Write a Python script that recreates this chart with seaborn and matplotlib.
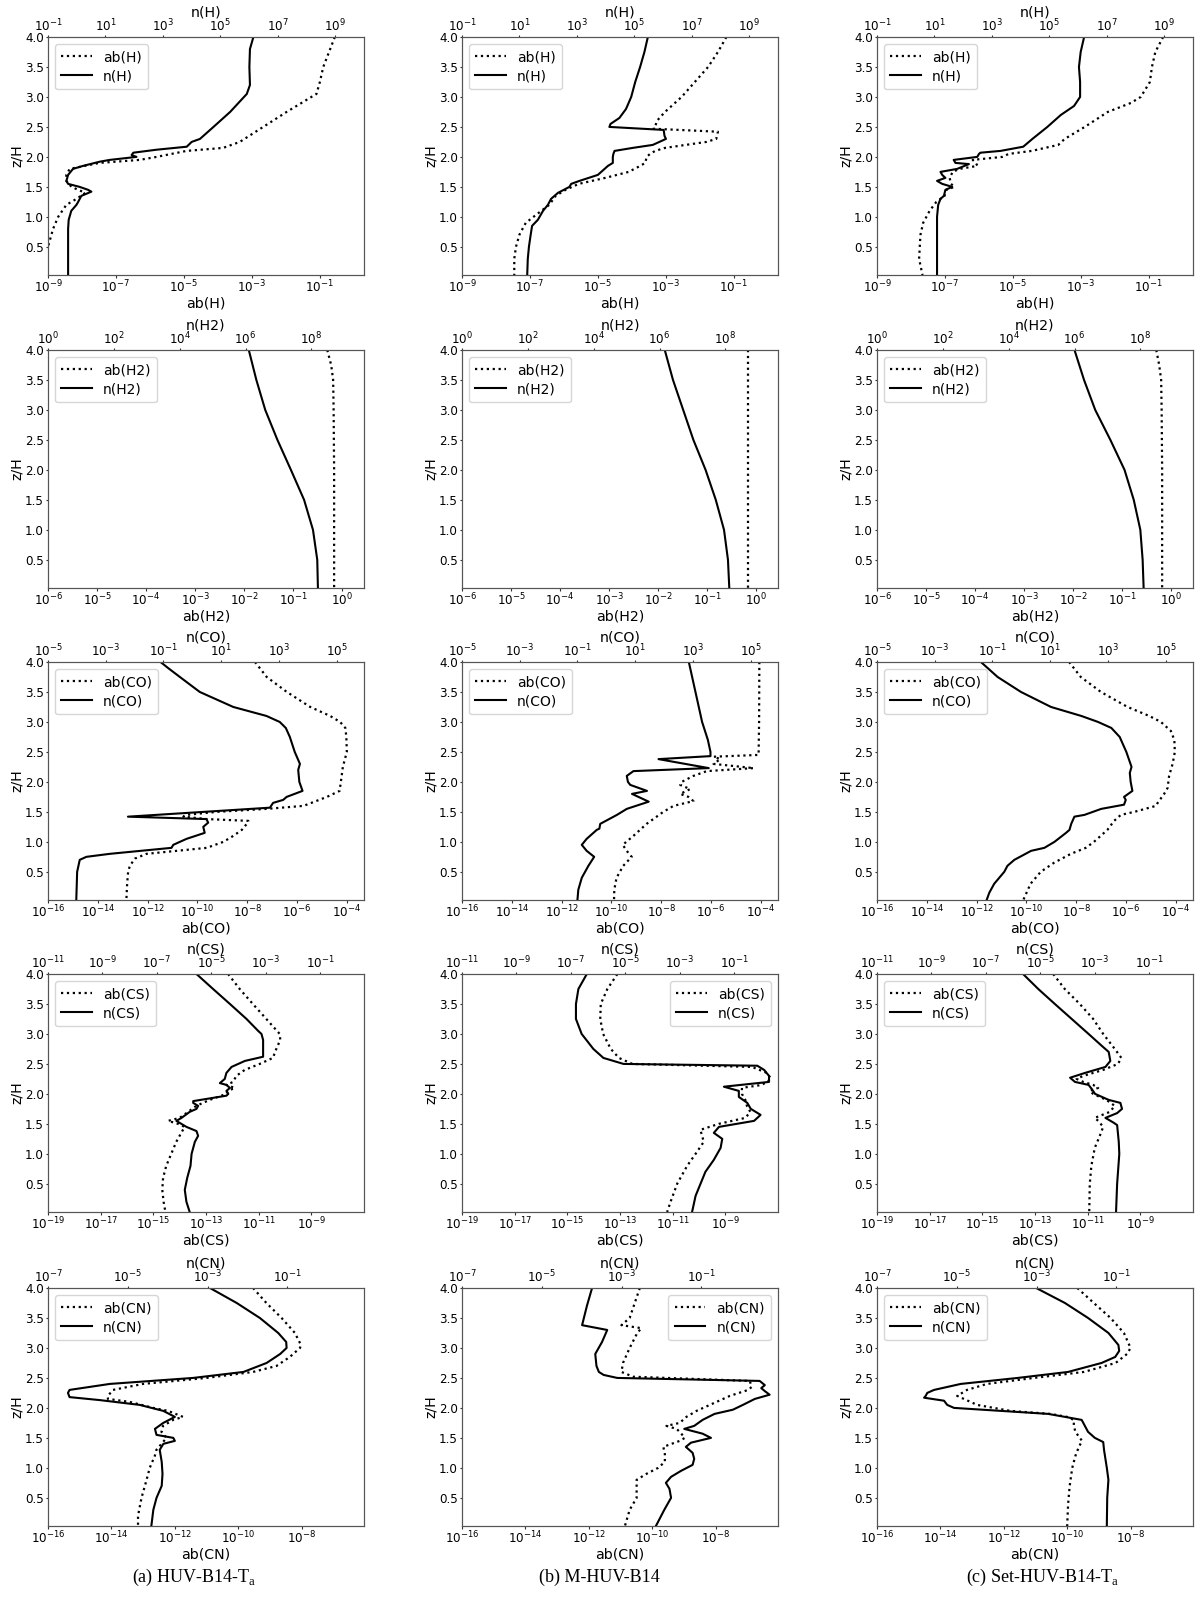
import numpy as np
import matplotlib
matplotlib.use("Agg")
import matplotlib.pyplot as plt
import seaborn as sns
from matplotlib.ticker import NullLocator

# values are log10 of the quantity, z is z/H

# ---------------- H ----------------
h_a_ab_z = [4.0, 3.5, 3.25, 3.05, 3.0, 2.75, 2.5, 2.25, 2.15, 2.1, 2.0, 1.95, 1.9, 1.8, 1.7, 1.6, 1.5, 1.4, 1.3, 1.2, 1.0, 0.8, 0.6, 0.5, 0.4, 0.2, 0.03]
h_a_ab = [-0.55, -0.89, -0.99, -1.09, -1.24, -1.97, -2.66, -3.35, -3.84, -4.92, -5.8, -6.3, -7.48, -8.36, -8.46, -8.46, -8.31, -7.9, -8.16, -8.46, -8.7, -8.85, -8.95, -9.0, -9.05, -9.2, -9.3]
h_a_n_z = [4.0, 3.8, 3.5, 3.2, 3.05, 2.9, 2.75, 2.5, 2.3, 2.25, 2.17, 2.12, 2.07, 2.03, 2.0, 1.95, 1.92, 1.85, 1.8, 1.7, 1.6, 1.55, 1.5, 1.45, 1.42, 1.35, 1.25, 1.2, 1.1, 0.95, 0.8, 0.5, 0.03]
h_a_n = [6.15, 6.03, 6.01, 6.03, 5.92, 5.63, 5.34, 4.76, 4.29, 4.0, 3.83, 2.78, 1.97, 1.91, 2.08, 1.15, 0.8, 0.22, -0.13, -0.3, -0.36, -0.3, 0.1, 0.4, 0.51, 0.16, 0.05, -0.01, -0.19, -0.28, -0.3, -0.3, -0.3]

h_b_ab_z = [4.0, 3.75, 3.5, 3.25, 3.0, 2.75, 2.6, 2.5, 2.47, 2.42, 2.3, 2.25, 2.15, 2.1, 2.05, 2.0, 1.9, 1.85, 1.75, 1.65, 1.55, 1.45, 1.35, 1.2, 1.05, 0.9, 0.85, 0.7, 0.5, 0.3, 0.03]
h_b_ab = [-1.21, -1.46, -1.75, -2.14, -2.53, -3.02, -3.26, -3.31, -3.36, -1.46, -1.51, -1.8, -3.02, -3.31, -3.46, -3.56, -3.6, -3.75, -4.09, -4.78, -5.56, -5.95, -6.24, -6.43, -6.78, -7.12, -7.17, -7.31, -7.41, -7.46, -7.46]
h_b_n_z = [4.0, 3.75, 3.5, 3.25, 3.0, 2.8, 2.65, 2.55, 2.5, 2.45, 2.35, 2.3, 2.2, 2.15, 2.1, 2.05, 2.0, 1.9, 1.85, 1.7, 1.6, 1.55, 1.5, 1.4, 1.3, 1.2, 1.1, 0.95, 0.85, 0.7, 0.5, 0.3, 0.03]
h_b_n = [5.47, 5.35, 5.2, 5.03, 4.89, 4.71, 4.48, 4.17, 4.13, 6.02, 6.05, 6.1, 5.64, 4.94, 4.31, 4.27, 4.25, 4.25, 4.08, 3.73, 3.09, 2.8, 2.74, 2.34, 2.1, 1.99, 1.82, 1.64, 1.44, 1.39, 1.33, 1.29, 1.27]

h_c_ab_z = [4.0, 3.75, 3.5, 3.25, 3.0, 2.9, 2.75, 2.5, 2.3, 2.2, 2.1, 2.05, 2.0, 1.95, 1.9, 1.85, 1.8, 1.75, 1.65, 1.55, 1.5, 1.45, 1.35, 1.25, 1.1, 0.9, 0.7, 0.5, 0.3, 0.03]
h_c_ab = [-0.57, -0.8, -0.9, -0.96, -1.23, -1.52, -2.2, -2.88, -3.47, -3.66, -4.44, -5.12, -5.31, -6.18, -6.09, -6.04, -6.57, -6.77, -6.86, -6.82, -6.72, -6.96, -7.01, -7.25, -7.45, -7.64, -7.72, -7.74, -7.76, -7.66]
h_c_n_z = [4.0, 3.75, 3.5, 3.25, 3.0, 2.85, 2.7, 2.5, 2.3, 2.17, 2.1, 2.07, 2.05, 2.0, 1.95, 1.9, 1.88, 1.8, 1.75, 1.7, 1.65, 1.6, 1.55, 1.5, 1.45, 1.35, 1.3, 1.2, 1.0, 0.5, 0.03]
h_c_n = [6.21, 6.09, 6.03, 6.07, 6.07, 5.86, 5.4, 4.93, 4.41, 4.09, 3.3, 2.6, 2.55, 2.49, 1.67, 1.73, 2.2, 1.79, 1.21, 1.27, 1.38, 1.09, 1.27, 1.62, 1.38, 1.33, 1.21, 1.13, 1.09, 1.09, 1.09]

# ---------------- H2 ----------------
h2_a_ab_z = [4.0, 3.75, 3.5, 3.0, 2.0, 1.0, 0.03]
h2_a_ab = [-0.3, -0.22, -0.18, -0.17, -0.16, -0.16, -0.16]
h2_a_n_z = [4.0, 3.5, 3.0, 2.5, 2.0, 1.5, 1.0, 0.5, 0.03]
h2_a_n = [6.1, 6.33, 6.6, 6.97, 7.38, 7.78, 8.05, 8.18, 8.2]

h2_b_ab_z = [4.0, 3.0, 2.0, 1.0, 0.03]
h2_b_ab = [-0.17, -0.17, -0.17, -0.17, -0.17]
h2_b_n_z = [4.0, 3.5, 3.0, 2.5, 2.0, 1.5, 1.0, 0.5, 0.03]
h2_b_n = [6.16, 6.41, 6.72, 7.03, 7.4, 7.71, 7.96, 8.08, 8.12]

h2_c_ab_z = [4.0, 3.75, 3.5, 3.0, 2.0, 1.0, 0.03]
h2_c_ab = [-0.3, -0.24, -0.2, -0.19, -0.18, -0.18, -0.18]
h2_c_n_z = [4.0, 3.5, 3.0, 2.5, 2.0, 1.5, 1.0, 0.5, 0.03]
h2_c_n = [6.0, 6.29, 6.63, 7.09, 7.52, 7.8, 8.0, 8.07, 8.1]

# ---------------- CO ----------------
co_a_ab_z = [4.0, 3.75, 3.5, 3.25, 3.1, 3.0, 2.9, 2.75, 2.5, 2.25, 2.0, 1.85, 1.75, 1.6, 1.55, 1.5, 1.45, 1.42, 1.38, 1.35, 1.3, 1.2, 1.1, 1.0, 0.9, 0.85, 0.8, 0.72, 0.6, 0.5, 0.3, 0.03]
co_a_ab = [-7.68, -7.21, -6.4, -5.46, -4.66, -4.26, -4.05, -4.01, -3.99, -4.15, -4.23, -4.28, -4.79, -5.73, -7.21, -9.22, -10.43, -10.56, -9.62, -7.95, -8.01, -8.21, -8.55, -8.95, -9.62, -10.83, -12.04, -12.51, -12.71, -12.78, -12.82, -12.85]
co_a_n_z = [4.0, 3.9, 3.75, 3.5, 3.25, 3.1, 3.0, 2.9, 2.75, 2.5, 2.3, 2.2, 2.0, 1.85, 1.75, 1.7, 1.65, 1.57, 1.42, 1.38, 1.32, 1.25, 1.15, 1.05, 0.95, 0.9, 0.8, 0.75, 0.7, 0.5, 0.03]
co_a_n = [-1.1, -0.84, -0.43, 0.26, 1.42, 2.57, 3.03, 3.24, 3.38, 3.55, 3.73, 3.67, 3.71, 3.82, 3.27, 3.15, 2.8, 2.69, -2.23, 0.49, 0.55, 0.38, 0.43, -0.2, -0.66, -0.72, -2.86, -3.67, -3.9, -3.99, -4.02]

co_b_ab_z = [4.0, 3.0, 2.45, 2.42, 2.38, 2.3, 2.23, 2.18, 2.1, 2.0, 1.95, 1.88, 1.8, 1.75, 1.68, 1.6, 1.5, 1.3, 1.1, 0.95, 0.85, 0.75, 0.6, 0.4, 0.2, 0.03]
co_b_ab = [-4.05, -4.06, -4.08, -5.89, -5.62, -5.89, -4.28, -6.16, -6.7, -7.17, -7.23, -6.83, -7.23, -6.9, -6.7, -7.5, -7.91, -8.58, -9.11, -9.54, -9.38, -9.18, -9.52, -9.79, -9.88, -9.89]
co_b_n_z = [4.0, 3.5, 3.0, 2.7, 2.5, 2.43, 2.38, 2.23, 2.18, 2.1, 2.0, 1.95, 1.85, 1.8, 1.67, 1.55, 1.45, 1.3, 1.22, 1.2, 1.05, 0.95, 0.85, 0.75, 0.6, 0.4, 0.2, 0.03]
co_b_n = [2.86, 3.09, 3.32, 3.52, 3.61, 3.61, 1.81, 3.55, 0.94, 0.71, 0.75, 0.83, 1.41, 0.89, 1.47, 0.71, 0.37, -0.21, -0.24, -0.33, -0.68, -0.85, -0.68, -0.42, -0.62, -0.85, -0.97, -1.0]

co_c_ab_z = [4.0, 3.75, 3.5, 3.25, 3.1, 3.0, 2.85, 2.7, 2.5, 2.3, 2.1, 1.9, 1.8, 1.65, 1.6, 1.5, 1.45, 1.35, 1.2, 1.0, 0.9, 0.8, 0.65, 0.5, 0.3, 0.03]
co_c_ab = [-8.28, -7.81, -7.0, -5.93, -5.06, -4.59, -4.19, -4.05, -4.03, -4.12, -4.26, -4.32, -4.46, -4.72, -4.79, -5.66, -6.2, -6.47, -6.74, -7.28, -7.61, -8.21, -8.89, -9.42, -9.83, -10.12]
co_c_n_z = [4.0, 3.75, 3.5, 3.25, 3.1, 3.0, 2.9, 2.75, 2.5, 2.25, 2.15, 2.0, 1.85, 1.75, 1.7, 1.62, 1.55, 1.45, 1.42, 1.3, 1.2, 1.15, 1.0, 0.9, 0.85, 0.7, 0.6, 0.5, 0.3, 0.15, 0.03]
co_c_n = [-1.4, -0.82, -0.01, 1.03, 2.08, 2.66, 3.12, 3.41, 3.64, 3.82, 3.76, 3.79, 3.85, 3.56, 3.62, 3.56, 2.77, 2.19, 1.84, 1.73, 1.67, 1.55, 1.15, 0.8, 0.34, -0.24, -0.48, -0.59, -0.94, -1.11, -1.2]

# ---------------- CS ----------------
cs_a_ab_z = [4.0, 3.75, 3.5, 3.25, 3.0, 2.9, 2.75, 2.6, 2.5, 2.4, 2.3, 2.2, 2.15, 2.1, 2.05, 2.0, 1.9, 1.8, 1.7, 1.6, 1.55, 1.5, 1.45, 1.35, 1.2, 1.0, 0.8, 0.6, 0.4, 0.2, 0.03]
cs_a_ab = [-12.16, -11.72, -11.22, -10.71, -10.2, -10.18, -10.33, -10.46, -10.96, -11.53, -11.85, -11.97, -12.23, -11.91, -12.16, -12.23, -12.86, -13.37, -13.68, -14.0, -14.44, -14.06, -13.81, -13.94, -14.13, -14.32, -14.51, -14.63, -14.66, -14.61, -14.54]
cs_a_n_z = [4.0, 3.75, 3.5, 3.25, 3.05, 3.0, 2.9, 2.75, 2.62, 2.55, 2.45, 2.35, 2.25, 2.18, 2.15, 2.1, 2.05, 2.0, 1.97, 1.88, 1.85, 1.8, 1.75, 1.7, 1.6, 1.55, 1.45, 1.38, 1.3, 1.2, 1.0, 0.8, 0.6, 0.4, 0.2, 0.03]
cs_a_n = [-5.54, -4.93, -4.31, -3.7, -3.27, -3.15, -3.09, -3.09, -3.09, -3.76, -4.25, -4.44, -4.5, -4.68, -4.44, -4.31, -4.44, -4.37, -4.44, -5.66, -5.66, -5.48, -5.54, -5.79, -6.09, -6.28, -5.91, -5.54, -5.48, -5.6, -5.72, -5.76, -5.88, -5.97, -5.91, -5.79]

cs_b_ab_z = [4.0, 3.75, 3.5, 3.25, 3.0, 2.75, 2.6, 2.5, 2.45, 2.35, 2.25, 2.15, 2.1, 2.0, 1.9, 1.8, 1.7, 1.6, 1.5, 1.4, 1.3, 1.2, 1.0, 0.8, 0.5, 0.2, 0.03]
cs_b_ab = [-13.1, -13.48, -13.73, -13.75, -13.64, -13.35, -13.04, -12.53, -7.99, -7.42, -7.26, -7.61, -8.37, -8.37, -8.24, -8.18, -8.05, -8.24, -9.25, -9.95, -9.88, -9.82, -10.13, -10.45, -10.83, -11.08, -11.21]
cs_b_n_z = [4.0, 3.75, 3.5, 3.25, 3.0, 2.75, 2.6, 2.5, 2.47, 2.4, 2.3, 2.2, 2.12, 2.05, 1.95, 1.85, 1.75, 1.65, 1.55, 1.45, 1.35, 1.25, 1.1, 0.9, 0.7, 0.5, 0.3, 0.03]
cs_b_n = [-6.41, -6.72, -6.81, -6.81, -6.6, -6.17, -5.8, -5.06, -0.14, 0.11, 0.29, 0.29, -1.37, -0.82, -0.82, -0.51, -0.38, -0.02, -0.26, -1.55, -1.74, -1.43, -1.49, -1.74, -2.05, -2.23, -2.41, -2.54]

cs_c_ab_z = [4.0, 3.75, 3.5, 3.25, 3.0, 2.75, 2.6, 2.5, 2.4, 2.3, 2.25, 2.2, 2.15, 2.1, 2.05, 2.0, 1.9, 1.8, 1.7, 1.6, 1.55, 1.45, 1.3, 1.1, 0.8, 0.5, 0.03]
cs_c_ab = [-12.31, -11.87, -11.3, -10.79, -10.41, -9.97, -9.72, -9.85, -10.41, -11.17, -11.42, -11.17, -10.79, -10.6, -10.92, -10.79, -10.29, -9.97, -10.16, -10.73, -10.6, -10.41, -10.54, -10.73, -10.86, -10.92, -10.94]
cs_c_n_z = [4.0, 3.75, 3.5, 3.25, 3.0, 2.8, 2.7, 2.55, 2.45, 2.35, 2.27, 2.2, 2.15, 2.08, 2.04, 2.0, 1.9, 1.85, 1.75, 1.68, 1.6, 1.52, 1.48, 1.2, 1.0, 0.5, 0.03]
cs_c_n = [-5.63, -5.07, -4.46, -3.84, -3.22, -2.73, -2.48, -2.42, -2.6, -3.35, -3.9, -3.72, -3.22, -3.1, -3.04, -2.98, -2.48, -2.05, -1.99, -2.17, -2.6, -2.3, -2.17, -2.11, -2.09, -2.17, -2.21]

# ---------------- CN ----------------
cn_a_ab_z = [4.0, 3.75, 3.5, 3.25, 3.05, 3.0, 2.85, 2.7, 2.6, 2.5, 2.4, 2.3, 2.2, 2.15, 2.1, 2.0, 1.95, 1.85, 1.8, 1.7, 1.6, 1.5, 1.4, 1.3, 1.2, 1.0, 0.8, 0.5, 0.2, 0.03]
cn_a_ab = [-9.53, -9.11, -8.63, -8.21, -8.02, -8.05, -8.37, -8.79, -9.53, -11.0, -13.0, -13.95, -14.11, -14.11, -13.42, -12.68, -12.21, -11.74, -12.05, -12.37, -12.42, -12.26, -12.42, -12.58, -12.63, -12.79, -12.89, -13.05, -13.16, -13.16]
cn_a_n_z = [4.0, 3.75, 3.5, 3.25, 3.1, 3.0, 2.9, 2.75, 2.6, 2.5, 2.4, 2.3, 2.25, 2.18, 2.13, 2.05, 1.95, 1.85, 1.75, 1.65, 1.55, 1.5, 1.45, 1.4, 1.3, 1.1, 0.9, 0.7, 0.5, 0.3, 0.03]
cn_a_n = [-2.94, -2.27, -1.69, -1.23, -1.03, -1.02, -1.18, -1.52, -2.1, -3.36, -5.45, -6.46, -6.5, -6.46, -5.7, -4.7, -4.11, -3.82, -4.11, -4.32, -4.28, -3.86, -3.82, -4.11, -4.2, -4.15, -4.13, -4.15, -4.28, -4.36, -4.41]

cn_b_ab_z = [4.0, 3.75, 3.5, 3.38, 3.33, 3.25, 3.0, 2.75, 2.6, 2.52, 2.48, 2.45, 2.35, 2.3, 2.2, 2.05, 1.95, 1.85, 1.75, 1.7, 1.65, 1.6, 1.5, 1.45, 1.35, 1.25, 1.1, 1.0, 0.9, 0.8, 0.5, 0.3, 0.03]
cn_b_ab = [-10.39, -10.55, -10.71, -10.97, -10.34, -10.47, -10.71, -10.92, -10.97, -10.6, -8.49, -6.92, -6.86, -6.97, -7.55, -8.18, -8.6, -8.92, -9.13, -9.55, -9.23, -9.13, -8.97, -9.13, -9.65, -9.6, -9.6, -9.81, -10.18, -10.49, -10.49, -10.71, -10.86]
cn_b_n_z = [4.0, 3.7, 3.38, 3.3, 3.1, 2.9, 2.7, 2.6, 2.55, 2.5, 2.45, 2.38, 2.33, 2.28, 2.22, 2.15, 2.05, 1.97, 1.9, 1.8, 1.7, 1.65, 1.57, 1.5, 1.42, 1.35, 1.25, 1.15, 1.05, 0.95, 0.85, 0.75, 0.65, 0.5, 0.3, 0.03]
cn_b_n = [-3.74, -3.87, -3.99, -3.36, -3.49, -3.66, -3.63, -3.57, -3.45, -3.11, 0.46, 0.59, 0.5, 0.59, 0.71, 0.34, 0.04, -0.21, -0.67, -0.97, -1.18, -1.43, -0.97, -0.76, -1.26, -1.39, -1.22, -1.18, -1.22, -1.51, -1.76, -1.89, -1.8, -1.76, -1.93, -2.14]

cn_c_ab_z = [4.0, 3.75, 3.5, 3.25, 3.0, 2.9, 2.75, 2.6, 2.5, 2.4, 2.3, 2.2, 2.15, 2.05, 1.95, 1.9, 1.85, 1.8, 1.7, 1.6, 1.45, 1.35, 1.2, 1.0, 0.7, 0.4, 0.03]
cn_c_ab = [-9.68, -9.16, -8.63, -8.21, -8.0, -8.11, -8.47, -9.47, -11.05, -12.53, -13.16, -13.47, -13.26, -12.84, -11.79, -10.53, -10.0, -9.79, -9.79, -9.74, -9.53, -9.63, -9.74, -9.84, -9.92, -9.97, -10.0]
cn_c_n_z = [4.0, 3.75, 3.5, 3.25, 3.05, 2.95, 2.85, 2.75, 2.6, 2.5, 2.4, 2.3, 2.25, 2.2, 2.17, 2.12, 2.05, 2.0, 1.95, 1.9, 1.85, 1.8, 1.7, 1.6, 1.5, 1.43, 1.3, 1.0, 0.8, 0.5, 0.03]
cn_c_n = [-3.01, -2.29, -1.71, -1.2, -0.95, -0.93, -1.03, -1.37, -2.21, -3.47, -4.9, -5.57, -5.74, -5.78, -5.82, -5.32, -5.24, -5.07, -3.89, -2.71, -2.29, -1.87, -1.79, -1.71, -1.54, -1.33, -1.31, -1.24, -1.2, -1.23, -1.24]

species = ["H", "H2", "CO", "CS", "CN"]
captions = ["(a) HUV-B14-T$_\\mathregular{a}$", "(b) M-HUV-B14", "(c) Set-HUV-B14-T$_\\mathregular{a}$"]

# axis ranges (log10) and tick exponents: bottom = ab, top = n
ab_lims = [(-9, 0.31), (-6, 0.45), (-16, -3.3), (-19, -7.0), (-16, -6.03)]
n_lims = [(-1, 10.0), (0, 9.6), (-5, 5.95), (-11, 0.62), (-7, 0.92)]
ab_ticks = [range(-9, 0, 2), range(-6, 1, 1), range(-16, -3, 2), range(-19, -8, 2), range(-16, -7, 2)]
n_ticks = [range(-1, 10, 2), range(0, 9, 2), range(-5, 6, 2), range(-11, 0, 2), range(-7, 0, 2)]

profiles = [
    [(h_a_ab_z, h_a_ab, h_a_n_z, h_a_n), (h_b_ab_z, h_b_ab, h_b_n_z, h_b_n), (h_c_ab_z, h_c_ab, h_c_n_z, h_c_n)],
    [(h2_a_ab_z, h2_a_ab, h2_a_n_z, h2_a_n), (h2_b_ab_z, h2_b_ab, h2_b_n_z, h2_b_n), (h2_c_ab_z, h2_c_ab, h2_c_n_z, h2_c_n)],
    [(co_a_ab_z, co_a_ab, co_a_n_z, co_a_n), (co_b_ab_z, co_b_ab, co_b_n_z, co_b_n), (co_c_ab_z, co_c_ab, co_c_n_z, co_c_n)],
    [(cs_a_ab_z, cs_a_ab, cs_a_n_z, cs_a_n), (cs_b_ab_z, cs_b_ab, cs_b_n_z, cs_b_n), (cs_c_ab_z, cs_c_ab, cs_c_n_z, cs_c_n)],
    [(cn_a_ab_z, cn_a_ab, cn_a_n_z, cn_a_n), (cn_b_ab_z, cn_b_ab, cn_b_n_z, cn_b_n), (cn_c_ab_z, cn_c_ab, cn_c_n_z, cn_c_n)],
]
legend_right = {(3, 1), (4, 1)}

W, H = 1200, 1600
col_left = [48, 462, 877]
row_top = [37, 350, 662, 974, 1288]
ax_w, ax_h = 316, 238

plt.rcParams["axes.edgecolor"] = "#555555"
plt.rcParams["xtick.color"] = "#333333"
plt.rcParams["ytick.color"] = "#333333"
plt.rcParams["xtick.labelcolor"] = "black"
plt.rcParams["ytick.labelcolor"] = "black"

fig = plt.figure(figsize=(12, 16), dpi=100)

for r, sp in enumerate(species):
    for c in range(3):
        ab_z, ab, n_z, n = profiles[r][c]
        rect = [col_left[c] / W, 1 - (row_top[r] + ax_h) / H, ax_w / W, ax_h / H]
        ax = fig.add_axes(rect)
        ax.set_xscale("log")
        ax2 = ax.twiny()
        ax2.set_xscale("log")

        sns.lineplot(x=10.0 ** np.array(ab), y=ab_z, ax=ax, estimator=None, sort=False,
                     color="black", linestyle=":", linewidth=1.6, legend=False)
        sns.lineplot(x=10.0 ** np.array(n), y=n_z, ax=ax2, estimator=None, sort=False,
                     color="black", linestyle="-", linewidth=1.5, legend=False)

        ax.set_xlim(10.0 ** ab_lims[r][0], 10.0 ** ab_lims[r][1])
        ax2.set_xlim(10.0 ** n_lims[r][0], 10.0 ** n_lims[r][1])
        ax.set_xticks([10.0 ** e for e in ab_ticks[r]])
        ax2.set_xticks([10.0 ** e for e in n_ticks[r]])
        ax.xaxis.set_minor_locator(NullLocator())
        ax2.xaxis.set_minor_locator(NullLocator())
        ax.set_ylim(0.03, 4.0)
        ax.set_yticks(np.arange(0.5, 4.01, 0.5))
        ax.set_yticklabels([f"{v:.1f}" for v in np.arange(0.5, 4.01, 0.5)])

        ax.tick_params(labelsize=8.6, length=1.8, width=0.8, pad=1.2)
        ax2.tick_params(labelsize=8.6, length=1.8, width=0.8, pad=0.3)
        ax.set_xlabel(f"ab({sp})", fontsize=10.2, labelpad=0.5)
        ax2.set_xlabel(f"n({sp})", fontsize=10.2, labelpad=1.0)
        ax.set_ylabel("z/H", fontsize=10.2, labelpad=1.0)

        loc = "upper left" if (r, c) not in legend_right else "upper right"
        ax2.legend([ax.lines[0], ax2.lines[0]], [f"ab({sp})", f"n({sp})"], loc=loc,
                   fontsize=10, handlelength=2.2, borderpad=0.45, labelspacing=0.35)

caption_x = [194, 599, 1043]
for c in range(3):
    fig.text(caption_x[c] / W, 1 - 1577 / H, captions[c], ha="center", va="center",
             fontsize=13, family="Liberation Serif")

fig.savefig("out.png", dpi=100)
